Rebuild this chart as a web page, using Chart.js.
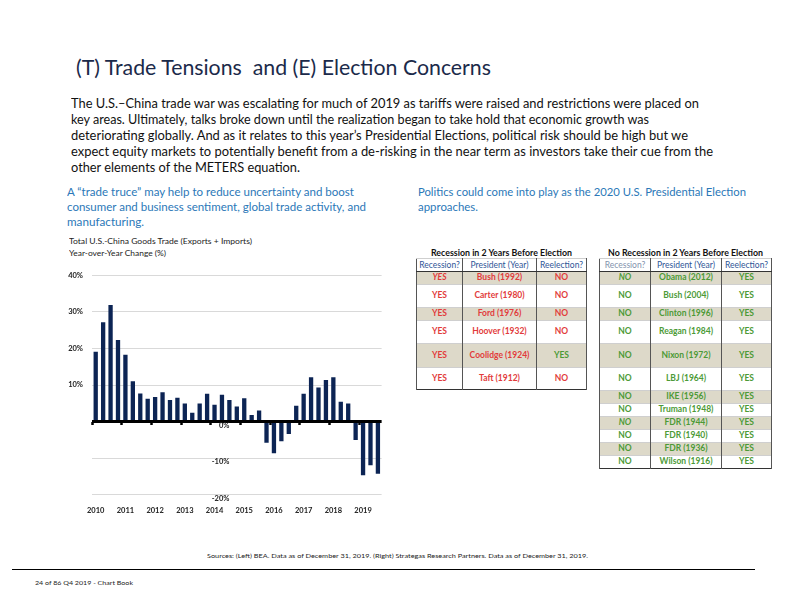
<!DOCTYPE html>
<html>
<head>
<meta charset="utf-8">
<script src="https://cdn.jsdelivr.net/npm/chart.js@4"></script>
<style>
  html, body { margin:0; padding:0; background:#fff; }
  body { width:792px; height:612px; position:relative; overflow:hidden; font-family: Lato, "Open Sans", sans-serif; }
  .ln { position:absolute; white-space:nowrap; transform-origin:0 50%; }
  .title { font-size:21px; color:#1b2a4a; }
  .para { font-size:13px; color:#111; }
  .blue { font-size:11px; color:#2b78b8; }
  .small { font-size:8px; color:#222; }
  .tiny { font-size:6.5px; color:#222; }
  .ttl { font-size:9px; font-weight:bold; color:#111; }
  table.t { position:absolute; border-collapse:collapse; table-layout:fixed; font-size:8.5px; font-weight:bold; text-align:center; }
  table.t td { border-left:1px solid #555; border-right:1px solid #555; border-top:1px solid #cfcfcf; padding:0; line-height:9px; }
  table.t { border:1.5px solid #333; }
  table.t tr.h td { color:#2f5597; border-bottom:1.5px solid #333; font-weight:normal; font-size:8.5px; }
  table.t tr.s td { background:#ddd9c9; }
  .r { color:#e23b3b; }
  .g { color:#4c9a36; }
  .i { font-style:italic; }
  #chartWrap { position:absolute; left:60px; top:262px; width:330px; height:262px; }
  #rule { position:absolute; left:12px; top:569px; width:743px; height:0; border-top:1.3px solid #000; }
</style>
</head>
<body>
<div class="ln title" data-x="76" data-y="66" data-w="415">(T) Trade Tensions&nbsp; and (E) Election Concerns</div>

<div class="ln para" data-x="71" data-y="103" data-w="628">The U.S.–China trade war was escalating for much of 2019 as tariffs were raised and restrictions were placed on</div>
<div class="ln para" data-x="71" data-y="119" data-w="578">key areas. Ultimately, talks broke down until the realization began to take hold that economic growth was</div>
<div class="ln para" data-x="71" data-y="135" data-w="617">deteriorating globally. And as it relates to this year’s Presidential Elections, political risk should be high but we</div>
<div class="ln para" data-x="71" data-y="151" data-w="642">expect equity markets to potentially benefit from a de-risking in the near term as investors take their cue from the</div>
<div class="ln para" data-x="71" data-y="167" data-w="229">other elements of the METERS equation.</div>

<div class="ln blue" data-x="67" data-y="191" data-w="287">A “trade truce” may help to reduce uncertainty and boost</div>
<div class="ln blue" data-x="67" data-y="206" data-w="299">consumer and business sentiment, global trade activity, and</div>
<div class="ln blue" data-x="67" data-y="221" data-w="77">manufacturing.</div>
<div class="ln blue" data-x="418" data-y="191" data-w="328">Politics could come into play as the 2020 U.S. Presidential Election</div>
<div class="ln blue" data-x="418" data-y="206" data-w="60">approaches.</div>

<div class="ln small" data-x="69" data-y="241" data-w="183">Total U.S.-China Goods Trade (Exports + Imports)</div>
<div class="ln small" data-x="69" data-y="253" data-w="97">Year-over-Year Change (%)</div>

<div id="chartWrap"><canvas id="c"></canvas></div>

<div class="ln ttl" data-x="431" data-y="252" data-w="141">Recession in 2 Years Before Election</div>
<div class="ln ttl" data-x="608" data-y="252" data-w="155">No Recession in 2 Years Before Election</div>

<table class="t" id="tL" style="left:416px; top:258px; width:170px;">
  <colgroup><col style="width:46px"><col style="width:74px"><col style="width:50px"></colgroup>
</table>
<table class="t" id="tR" style="left:599px; top:258px; width:172px;">
  <colgroup><col style="width:51px"><col style="width:71px"><col style="width:50px"></colgroup>
</table>

<div class="ln tiny" data-x="207" data-y="555" data-w="381">Sources: (Left) BEA. Data as of December 31, 2019. (Right) Strategas Research Partners. Data as of December 31, 2019.</div>
<div id="rule"></div>
<div class="ln tiny" data-x="35" data-y="582" data-w="98">24 of 86 Q4 2019 - Chart Book</div>

<script>
// ---------- data ----------
const quarters = [
  '2010 Q1','2010 Q2','2010 Q3','2010 Q4',
  '2011 Q1','2011 Q2','2011 Q3','2011 Q4',
  '2012 Q1','2012 Q2','2012 Q3','2012 Q4',
  '2013 Q1','2013 Q2','2013 Q3','2013 Q4',
  '2014 Q1','2014 Q2','2014 Q3','2014 Q4',
  '2015 Q1','2015 Q2','2015 Q3','2015 Q4',
  '2016 Q1','2016 Q2','2016 Q3','2016 Q4',
  '2017 Q1','2017 Q2','2017 Q3','2017 Q4',
  '2018 Q1','2018 Q2','2018 Q3','2018 Q4',
  '2019 Q1','2019 Q2','2019 Q3'
];
const tradeYoY = [
  19.1, 27.2, 31.9, 22.3,
  18.3, 11.0, 7.7, 6.2,
  6.7, 8.0, 5.9, 6.5,
  4.9, 2.4, 4.9, 7.6,
  4.6, 7.3, 5.9, 4.1,
  6.4, 1.8, 3.0, -5.8,
  -8.7, -5.4, -3.4, 4.3,
  7.6, 12.1, 9.3, 11.4,
  12.1, 5.4, 4.9, -5.1,
  -14.7, -12.0, -14.3
];
const yearTicks = ['2010','2011','2012','2013','2014','2015','2016','2017','2018','2019'];
const yTicks = [40, 30, 20, 10, 0, -10, -20];

const recHeaders = ['Recession?', 'President (Year)', 'Reelection?'];
const recYes = ['YES','YES','YES','YES','YES','YES'];
const recPresidents = ['Bush (1992)','Carter (1980)','Ford (1976)','Hoover (1932)','Coolidge (1924)','Taft (1912)'];
const recReelect = ['NO','NO','NO','NO','YES','NO'];
const noRecNo = ['NO','NO','NO','NO','NO','NO','NO','NO','NO','NO','NO','NO'];
const noRecPresidents = ['Obama (2012)','Bush (2004)','Clinton (1996)','Reagan (1984)','Nixon (1972)','LBJ (1964)','IKE (1956)','Truman (1948)','FDR (1944)','FDR (1940)','FDR (1936)','Wilson (1916)'];
const noRecReelect = ['YES','YES','YES','YES','YES','YES','YES','YES','YES','YES','YES','YES'];

// ---------- text line fitting ----------
document.querySelectorAll('.ln').forEach(el => {
  const x = +el.dataset.x, y = +el.dataset.y, w = +el.dataset.w;
  el.style.left = x + 'px';
  const r = el.getBoundingClientRect();
  el.style.top = (y - r.height / 2) + 'px';
  el.style.transform = 'scaleX(' + (w / r.width) + ')';
});

// ---------- tables ----------
const leftHeights = [13, 12.5, 23.5, 12.5, 23.5, 23.5, 22.5];
const rightHeights = [13, 12.5, 23.5, 12.5, 23.5, 23.5, 23, 13, 13, 13, 13, 13, 13];
function buildTable(id, heights, c1, c2, c3, cls, shadeIdx, italicIdx, headerFirstColor) {
  const t = document.getElementById(id);
  let html = '<tr class="h" style="height:' + heights[0] + 'px">';
  recHeaders.forEach((h, i) => {
    html += '<td' + (i === 0 && headerFirstColor ? ' style="color:' + headerFirstColor + '"' : '') + '>' + h + '</td>';
  });
  html += '</tr>';
  c2.forEach((p, i) => {
    const sh = shadeIdx.includes(i) ? ' class="s"' : '';
    const it = italicIdx.includes(i) ? ' i' : '';
    const c3cls = c3[i] === 'YES' ? 'g' : 'r';
    html += '<tr' + sh + ' style="height:' + heights[i + 1] + 'px">' +
      '<td class="' + cls + it + '">' + c1[i] + '</td>' +
      '<td class="' + cls + '">' + p + '</td>' +
      '<td class="' + c3cls + '">' + c3[i] + '</td></tr>';
  });
  t.insertAdjacentHTML('beforeend', html);
}
buildTable('tL', leftHeights, recYes, recPresidents, recReelect, 'r', [0, 2, 4], [0], null);
buildTable('tR', rightHeights, noRecNo, noRecPresidents, noRecReelect, 'g', [0, 2, 4, 6, 8, 10], [0, 8], '#8393ad');

// ---------- chart ----------
const tickFont = { family: 'Lato, "Liberation Sans", sans-serif', size: 7.5, weight: 'bold' };
new Chart(document.getElementById('c'), {
  type: 'bar',
  data: {
    labels: quarters,
    datasets: [{
      data: tradeYoY,
      backgroundColor: '#0c2454',
      borderWidth: 0,
      barPercentage: 0.58,
      categoryPercentage: 1.0
    }]
  },
  options: {
    responsive: true,
    maintainAspectRatio: false,
    animation: false,
    events: [],
    layout: { padding: { top: 10, right: 7, left: 0, bottom: 0 } },
    plugins: { legend: { display: false }, tooltip: { enabled: false } },
    scales: {
      x: {
        type: 'category', axis: 'x', position: 'bottom', offset: true,
        grid: { display: false, drawTicks: false },
        border: { display: false },
        ticks: {
          autoSkip: false, maxRotation: 0, minRotation: 0, padding: 12,
          font: tickFont, color: '#222',
          callback: (v, i) => (i % 4 === 0 ? yearTicks[i / 4] : '')
        },
        afterFit: s => { s.height = 29.5; }
      },
      x2: {
        type: 'category', axis: 'x', position: { y: 0 }, offset: true,
        grid: {
          drawOnChartArea: false, tickLength: 3, tickWidth: 2.5,
          tickColor: ctx => (ctx.index % 4 === 0 ? '#000' : 'rgba(0,0,0,0)')
        },
        border: { display: false },
        ticks: { display: false, autoSkip: false }
      },
      y: {
        type: 'linear', axis: 'y', position: 'left',
        min: yTicks[yTicks.length - 1], max: yTicks[0],
        afterBuildTicks: s => { s.ticks = yTicks.map(v => ({ value: v })); },
        grid: {
          drawTicks: false,
          color: ctx => (ctx.tick && ctx.tick.value === 0 ? '#000' : '#d9d9d9'),
          lineWidth: ctx => (ctx.tick && ctx.tick.value === 0 ? 3 : 1)
        },
        border: { display: false },
        ticks: {
          padding: 9, font: tickFont, color: '#222',
          callback: v => (v > 0 ? v + '%' : '')
        },
        afterFit: s => { s.width = 32; }
      },
      y2: {
        type: 'linear', axis: 'y', position: { x: 18 },
        min: yTicks[yTicks.length - 1], max: yTicks[0],
        afterBuildTicks: s => { s.ticks = yTicks.map(v => ({ value: v })); },
        grid: { display: false },
        border: { display: false },
        ticks: {
          labelOffset: 4, font: tickFont, color: '#222',
          callback: v => (v <= 0 ? v + '%' : '')
        }
      }
    }
  }
});
</script>
</body>
</html>
